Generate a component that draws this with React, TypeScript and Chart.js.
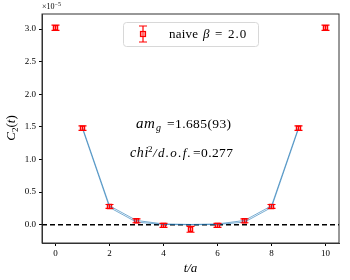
import React, { useEffect, useRef } from "react";
import { Chart, registerables } from "chart.js";
Chart.register(...registerables);

// values in units of 1e-5
const tValues = [0, 1, 2, 3, 4, 5, 6, 7, 8, 9, 10];
const c2Values = [3.02, 1.48, 0.28, 0.06, -0.01, -0.07, -0.01, 0.06, 0.28, 1.48, 3.02];
const c2Errors = [0.04, 0.035, 0.03, 0.03, 0.03, 0.045, 0.03, 0.03, 0.03, 0.035, 0.04];
const fitT = [1, 2, 3, 4, 5, 6, 7, 8, 9];
const fitUpper = [1.49, 0.29, 0.065, 0.012, 0.004, 0.012, 0.065, 0.29, 1.49];
const fitLower = [1.47, 0.265, 0.04, 0.004, 0.0, 0.004, 0.04, 0.265, 1.47];
const xTicks = [0, 2, 4, 6, 8, 10];
const yTicks = [0.0, 0.5, 1.0, 1.5, 2.0, 2.5, 3.0];

const SERIF = "'Liberation Serif', 'DejaVu Serif', serif";

function seg(ctx: any, text: string, x: number, y: number, font: string, spacing = "0px") {
  ctx.font = font;
  ctx.letterSpacing = spacing;
  ctx.fillText(text, x, y);
  ctx.letterSpacing = "0px";
}

const overlay = {
  id: "overlay",
  beforeDatasetsDraw(chart: any) {
    const { ctx, chartArea, scales } = chart;
    const y0 = scales.y.getPixelForValue(0);
    ctx.save();
    ctx.strokeStyle = "#000";
    ctx.lineWidth = 1.5;
    ctx.setLineDash([5, 3]);
    ctx.beginPath();
    ctx.moveTo(chartArea.left, y0);
    ctx.lineTo(chartArea.right, y0);
    ctx.stroke();
    ctx.restore();
  },
  afterDatasetsDraw(chart: any) {
    const { ctx, chartArea, scales } = chart;
    const xs = scales.x, ys = scales.y;
    ctx.save();
    // frame
    ctx.strokeStyle = "#333";
    ctx.lineWidth = 1;
    ctx.strokeRect(chartArea.left, chartArea.top, chartArea.right - chartArea.left, chartArea.bottom - chartArea.top);
    // error bars
    ctx.strokeStyle = "#ff0000";
    ctx.lineWidth = 1.2;
    for (let i = 0; i < tValues.length; i++) {
      const px = xs.getPixelForValue(tValues[i]);
      const hi = ys.getPixelForValue(c2Values[i] + c2Errors[i]);
      const lo = ys.getPixelForValue(c2Values[i] - c2Errors[i]);
      ctx.beginPath();
      ctx.moveTo(px, hi);
      ctx.lineTo(px, lo);
      ctx.moveTo(px - 4, hi);
      ctx.lineTo(px + 4, hi);
      ctx.moveTo(px - 4, lo);
      ctx.lineTo(px + 4, lo);
      ctx.stroke();
    }
    // legend
    const lx = 123, ly = 22, lw = 135, lh = 24;
    ctx.fillStyle = "rgba(255,255,255,0.85)";
    ctx.strokeStyle = "#d8d8d8";
    ctx.lineWidth = 1;
    ctx.beginPath();
    (ctx as any).roundRect(lx + 0.5, ly + 0.5, lw, lh, 3);
    ctx.fill();
    ctx.stroke();
    const mx = 143, my = 34;
    ctx.strokeStyle = "#ff0000";
    ctx.lineWidth = 1.2;
    ctx.beginPath();
    ctx.moveTo(mx, my - 8);
    ctx.lineTo(mx, my + 8);
    ctx.moveTo(mx - 4, my - 8);
    ctx.lineTo(mx + 4, my - 8);
    ctx.moveTo(mx - 4, my + 8);
    ctx.lineTo(mx + 4, my + 8);
    ctx.stroke();
    ctx.fillStyle = "rgba(255,120,120,0.7)";
    ctx.fillRect(mx - 2.5, my - 2.5, 5, 5);
    ctx.strokeRect(mx - 2.5, my - 2.5, 5, 5);
    ctx.fillStyle = "#000";
    ctx.textBaseline = "alphabetic";
    ctx.textAlign = "left";
    const by = 38;
    seg(ctx, "naive", 169, by, `13px ${SERIF}`, "0.2px");
    seg(ctx, "β", 203, by, `italic 13px ${SERIF}`);
    seg(ctx, "=", 215, by, `13px ${SERIF}`, "1px");
    seg(ctx, "2.0", 228, by, `13px ${SERIF}`, "1px");

    // annotations
    let ay = 128;
    seg(ctx, "am", 136, ay, `italic 15px ${SERIF}`, "0.5px");
    seg(ctx, "g", 156, ay + 3, `italic 10px ${SERIF}`);
    seg(ctx, "=1.685(93)", 167, ay, `13.5px ${SERIF}`, "0.4px");

    ay = 157;
    seg(ctx, "chi", 130, ay, `italic 14px ${SERIF}`, "0.6px");
    seg(ctx, "2", 148, ay - 5, `9px ${SERIF}`);
    seg(ctx, "/", 153, ay, `italic 13px ${SERIF}`);
    seg(ctx, "d.o.f.", 158, ay, `italic 13px ${SERIF}`, "1.3px");
    seg(ctx, "=0.277", 193, ay, `13.5px ${SERIF}`, "0.4px");

    // exponent label
    ctx.font = `8px ${SERIF}`;
    ctx.fillText("×10", 42, 9);
    const ew = ctx.measureText("×10").width;
    ctx.font = `6px ${SERIF}`;
    ctx.fillText("−5", 42 + ew, 6);

    // axis labels
    ctx.font = `italic 13px ${SERIF}`;
    ctx.textAlign = "center";
    ctx.fillText("t/a", (chartArea.left + chartArea.right) / 2, 272);
    ctx.save();
    ctx.translate(15, 128);
    ctx.rotate(-Math.PI / 2);
    ctx.textAlign = "left";
    const w1 = ctx.measureText("C").width;
    ctx.font = `9px ${SERIF}`;
    const w2 = ctx.measureText("2").width;
    ctx.font = `italic 13px ${SERIF}`;
    const w3 = ctx.measureText("(t)").width;
    const sx = -(w1 + w2 + w3) / 2;
    ctx.fillText("C", sx, 0);
    ctx.font = `9px ${SERIF}`;
    ctx.fillText("2", sx + w1, 3);
    ctx.font = `13px ${SERIF}`;
    ctx.fillText("(", sx + w1 + w2, 0);
    const wp = ctx.measureText("(").width;
    ctx.font = `italic 13px ${SERIF}`;
    ctx.fillText("t", sx + w1 + w2 + wp, 0);
    const wt = ctx.measureText("t").width;
    ctx.font = `13px ${SERIF}`;
    ctx.fillText(")", sx + w1 + w2 + wp + wt, 0);
    ctx.restore();
    ctx.restore();
  },
};

export default function App() {
  const ref = useRef<HTMLCanvasElement>(null);
  useEffect(() => {
    document.body.style.margin = "0";
    const chart = new Chart(ref.current!, {
      type: "line",
      data: {
        datasets: [
          {
            data: fitT.map((t, i) => ({ x: t, y: fitUpper[i] })),
            borderColor: "rgba(31,119,180,0.6)",
            borderWidth: 1,
            pointRadius: 0,
            fill: false,
          },
          {
            data: fitT.map((t, i) => ({ x: t, y: fitLower[i] })),
            borderColor: "rgba(31,119,180,0.6)",
            borderWidth: 1,
            pointRadius: 0,
            fill: false,
          },
          {
            data: tValues.map((t, i) => ({ x: t, y: c2Values[i] })),
            showLine: false,
            pointStyle: "rect",
            pointRadius: 3,
            pointBorderWidth: 1.2,
            pointBackgroundColor: "rgba(255,120,120,0.7)",
            pointBorderColor: "#ff0000",
          },
        ],
      },
      options: {
        animation: false,
        responsive: false,
        layout: { padding: { left: 0, top: 14, right: 11, bottom: 0 } },
        plugins: { legend: { display: false }, tooltip: { enabled: false } },
        scales: {
          x: {
            type: "linear",
            min: -0.5,
            max: 10.5,
            afterBuildTicks: (s: any) => {
              s.ticks = xTicks.map((v) => ({ value: v }));
            },
            afterFit: (s: any) => {
              s.height = 37;
            },
            grid: { drawOnChartArea: false, tickLength: 3, color: "#000" },
            border: { color: "#333", width: 1 },
            ticks: { font: { family: SERIF, size: 9 }, color: "#000", padding: 2, maxRotation: 0 },
          },
          y: {
            type: "linear",
            min: -0.28,
            max: 3.23,
            afterBuildTicks: (s: any) => {
              s.ticks = yTicks.map((v) => ({ value: v }));
            },
            afterFit: (s: any) => {
              s.width = 42;
            },
            grid: { drawOnChartArea: false, tickLength: 3, color: "#000" },
            border: { color: "#333", width: 1 },
            ticks: {
              font: { family: SERIF, size: 9 },
              color: "#000",
              padding: 3,
              callback: (v: any) => Number(v).toFixed(1),
            },
          },
        },
      },
      plugins: [overlay],
    });
    return () => chart.destroy();
  }, []);
  return <canvas ref={ref} width={350} height={280} style={{ display: "block" }} />;
}
